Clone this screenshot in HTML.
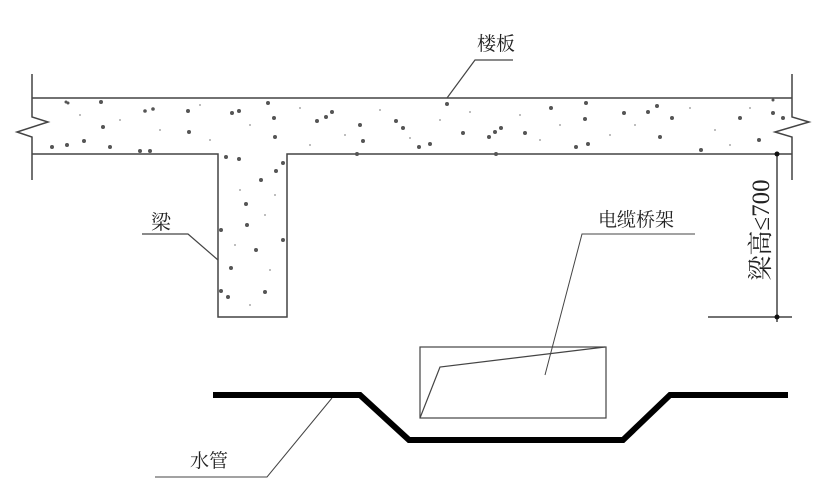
<!DOCTYPE html>
<html><head><meta charset="utf-8"><style>
html,body{margin:0;padding:0;background:#fff;}
svg{display:block;}
text{font-family:"Liberation Serif","Noto Serif CJK SC","Noto Sans CJK SC",serif;fill:#222;}
</style></head><body>
<svg width="824" height="494" viewBox="0 0 824 494" xmlns="http://www.w3.org/2000/svg">
<rect width="824" height="494" fill="#fff"/>
<g fill="none" stroke="#444" stroke-width="1.5">
<path d="M32 98 H792"/>
<path d="M32 154 H218 V317 H287 V154 H792"/>
<path d="M32 74 V117 L48 122 L17 132 L32 137 V180"/>
<path d="M792 74 V117 L809 122 L775 132 L792 137 V180"/>
<path d="M777 154 V322 M708 317 H792"/>
<path d="M447 98 L475 60 H513" stroke-width="1.2"/>
<path d="M142 234 H188 L218 260" stroke-width="1.2"/>
<path d="M545 375 L582 234 H695" stroke-width="1"/>
<path d="M155 477 H267 L332 398" stroke-width="1"/>
<rect x="420" y="347" width="186" height="71" stroke-width="1.2"/>
<path d="M420 418 L440 367 L605 347" stroke-width="1.2"/>
</g>
<circle cx="777" cy="154" r="2.5" fill="#111"/>
<circle cx="777" cy="317" r="2.5" fill="#111"/>
<path d="M213 395 H360 L409 440 H623 L670 395 H788" fill="none" stroke="#000" stroke-width="6"/>
<g fill="#555">
<circle cx="66" cy="102" r="1.5"/><circle cx="68" cy="103" r="1.5"/><circle cx="101" cy="102" r="2"/><circle cx="103" cy="127" r="2"/><circle cx="52" cy="147" r="2"/><circle cx="67" cy="145" r="2"/><circle cx="84" cy="141" r="2"/><circle cx="110" cy="147" r="2"/><circle cx="140" cy="151" r="2"/><circle cx="150" cy="151" r="2"/><circle cx="145" cy="111" r="1.8"/><circle cx="153" cy="109" r="1.8"/><circle cx="188" cy="111" r="2"/><circle cx="189" cy="132" r="2"/><circle cx="232" cy="113" r="2"/><circle cx="239" cy="111" r="2"/><circle cx="268" cy="103" r="2"/><circle cx="274" cy="118" r="2"/><circle cx="275" cy="137" r="2"/><circle cx="226" cy="157" r="2"/><circle cx="239" cy="159" r="2"/><circle cx="283" cy="163" r="2"/><circle cx="276" cy="171" r="2"/><circle cx="261" cy="180" r="2"/><circle cx="246" cy="204" r="2"/><circle cx="247" cy="225" r="2"/><circle cx="221" cy="230" r="2"/><circle cx="283" cy="240" r="2"/><circle cx="256" cy="250" r="2"/><circle cx="231" cy="268" r="2"/><circle cx="265" cy="292" r="2"/><circle cx="228" cy="297" r="2"/><circle cx="221" cy="291" r="2"/><circle cx="317" cy="121" r="2"/><circle cx="326" cy="117" r="2"/><circle cx="332" cy="112" r="2"/><circle cx="360" cy="125" r="2"/><circle cx="363" cy="141" r="2"/><circle cx="357" cy="154" r="2"/><circle cx="396" cy="121" r="2"/><circle cx="403" cy="128" r="2"/><circle cx="447" cy="104" r="2"/><circle cx="463" cy="133" r="2"/><circle cx="495" cy="132" r="2"/><circle cx="501" cy="128" r="2"/><circle cx="489" cy="137" r="2"/><circle cx="496" cy="154" r="2"/><circle cx="430" cy="144" r="2"/><circle cx="419" cy="147" r="2"/><circle cx="551" cy="108" r="2"/><circle cx="586" cy="103" r="2"/><circle cx="585" cy="119" r="2"/><circle cx="525" cy="133" r="2"/><circle cx="576" cy="147" r="2"/><circle cx="588" cy="144" r="2"/><circle cx="624" cy="113" r="2"/><circle cx="648" cy="112" r="2"/><circle cx="657" cy="106" r="2"/><circle cx="672" cy="118" r="2"/><circle cx="660" cy="137" r="2"/><circle cx="701" cy="150" r="2"/><circle cx="740" cy="118" r="2"/><circle cx="773" cy="113" r="2"/><circle cx="783" cy="118" r="2"/><circle cx="759" cy="140" r="2"/><circle cx="773" cy="100" r="1.5"/>
</g>
<g fill="#aaa">
<circle cx="80" cy="115" r="1"/><circle cx="120" cy="120" r="1"/><circle cx="160" cy="130" r="1"/><circle cx="200" cy="105" r="1"/><circle cx="210" cy="140" r="1"/><circle cx="250" cy="125" r="1"/><circle cx="300" cy="108" r="1"/><circle cx="310" cy="145" r="1"/><circle cx="345" cy="135" r="1"/><circle cx="380" cy="110" r="1"/><circle cx="410" cy="138" r="1"/><circle cx="440" cy="120" r="1"/><circle cx="470" cy="112" r="1"/><circle cx="520" cy="115" r="1"/><circle cx="540" cy="140" r="1"/><circle cx="560" cy="125" r="1"/><circle cx="610" cy="135" r="1"/><circle cx="635" cy="125" r="1"/><circle cx="690" cy="108" r="1"/><circle cx="715" cy="130" r="1"/><circle cx="730" cy="145" r="1"/><circle cx="750" cy="108" r="1"/><circle cx="240" cy="190" r="1"/><circle cx="265" cy="215" r="1"/><circle cx="235" cy="245" r="1"/><circle cx="270" cy="270" r="1"/><circle cx="250" cy="305" r="1"/><circle cx="275" cy="195" r="1"/>
</g>
<text x="477" y="50" font-size="19">楼板</text>
<text x="151" y="229" font-size="20">梁</text>
<text x="598" y="226" font-size="19">电缆桥架</text>
<text x="190" y="467" font-size="19">水管</text>
<text transform="translate(769,230) rotate(-90)" text-anchor="middle" font-size="25" font-family="Liberation Sans, Noto Sans CJK SC, sans-serif" fill="#333">梁高≤700</text>
</svg>
</body></html>
